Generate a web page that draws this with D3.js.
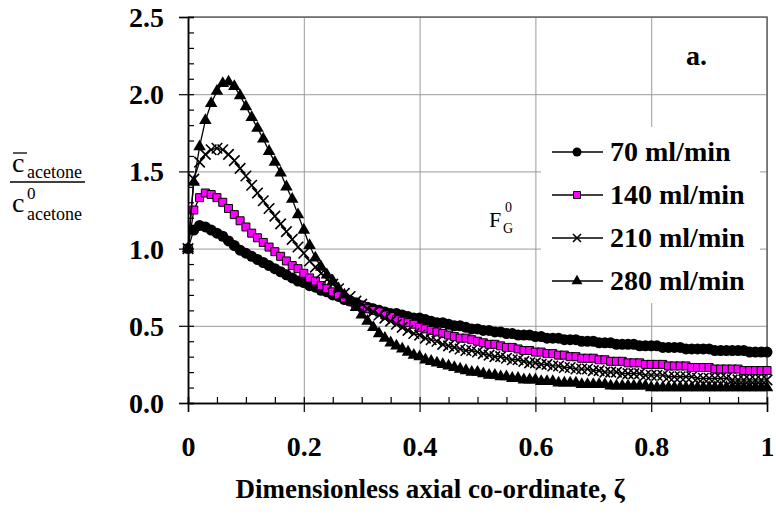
<!doctype html>
<html>

<head>
    <meta charset="UTF-8">
    <title>Acetone profiles</title>
    <script src="https://d3js.org/d3.v7.min.js"></script>
    <style>
        body { margin: 0; background: #fff; }
        text { font-family: "Liberation Serif", "Times New Roman", serif; }
    </style>
</head>

<body>
    <script>
        var width = 776;
        var height = 517;

        // axial co-ordinate, one point every 0.01
        var zeta = [0, 0.01, 0.02, 0.03, 0.04, 0.05, 0.06, 0.07, 0.08, 0.09,
            0.1, 0.11, 0.12, 0.13, 0.14, 0.15, 0.16, 0.17, 0.18, 0.19,
            0.2, 0.21, 0.22, 0.23, 0.24, 0.25, 0.26, 0.27, 0.28, 0.29,
            0.3, 0.31, 0.32, 0.33, 0.34, 0.35, 0.36, 0.37, 0.38, 0.39,
            0.4, 0.41, 0.42, 0.43, 0.44, 0.45, 0.46, 0.47, 0.48, 0.49,
            0.5, 0.51, 0.52, 0.53, 0.54, 0.55, 0.56, 0.57, 0.58, 0.59,
            0.6, 0.61, 0.62, 0.63, 0.64, 0.65, 0.66, 0.67, 0.68, 0.69,
            0.7, 0.71, 0.72, 0.73, 0.74, 0.75, 0.76, 0.77, 0.78, 0.79,
            0.8, 0.81, 0.82, 0.83, 0.84, 0.85, 0.86, 0.87, 0.88, 0.89,
            0.9, 0.91, 0.92, 0.93, 0.94, 0.95, 0.96, 0.97, 0.98, 0.99, 1];

        var flow70 = [1.00, 1.12, 1.15, 1.14, 1.12, 1.10, 1.08, 1.05, 1.02, 0.99,
            0.97, 0.95, 0.93, 0.91, 0.89, 0.87, 0.85, 0.83, 0.81, 0.79,
            0.78, 0.76, 0.75, 0.73, 0.72, 0.70, 0.69, 0.67, 0.66, 0.65,
            0.63, 0.62, 0.61, 0.60, 0.59, 0.58, 0.58, 0.57, 0.56, 0.55,
            0.55, 0.54, 0.53, 0.52, 0.52, 0.51, 0.50, 0.50, 0.49, 0.48,
            0.48, 0.47, 0.47, 0.46, 0.46, 0.45, 0.45, 0.44, 0.44, 0.44,
            0.43, 0.43, 0.42, 0.42, 0.42, 0.41, 0.41, 0.41, 0.40, 0.40,
            0.40, 0.39, 0.39, 0.39, 0.38, 0.38, 0.38, 0.38, 0.37, 0.37,
            0.37, 0.37, 0.36, 0.36, 0.36, 0.36, 0.35, 0.35, 0.35, 0.35,
            0.35, 0.34, 0.34, 0.34, 0.34, 0.34, 0.34, 0.33, 0.33, 0.33, 0.33];

        var flow140 = [1.00, 1.25, 1.33, 1.36, 1.35, 1.33, 1.30, 1.26, 1.22, 1.18,
            1.14, 1.10, 1.07, 1.04, 1.01, 0.98, 0.95, 0.92, 0.89, 0.87,
            0.84, 0.81, 0.79, 0.76, 0.74, 0.72, 0.70, 0.68, 0.66, 0.64,
            0.63, 0.61, 0.60, 0.59, 0.57, 0.56, 0.54, 0.53, 0.52, 0.51,
            0.49, 0.48, 0.47, 0.46, 0.45, 0.44, 0.43, 0.42, 0.42, 0.41,
            0.40, 0.39, 0.38, 0.38, 0.37, 0.36, 0.36, 0.35, 0.34, 0.34,
            0.33, 0.33, 0.32, 0.32, 0.31, 0.31, 0.30, 0.30, 0.29, 0.29,
            0.29, 0.28, 0.28, 0.27, 0.27, 0.27, 0.26, 0.26, 0.26, 0.25,
            0.25, 0.25, 0.25, 0.24, 0.24, 0.24, 0.24, 0.23, 0.23, 0.23,
            0.23, 0.22, 0.22, 0.22, 0.22, 0.22, 0.21, 0.21, 0.21, 0.21, 0.21];

        var flow210 = [1.00, 1.45, 1.56, 1.61, 1.64, 1.65, 1.64, 1.61, 1.57, 1.52,
            1.47, 1.41, 1.36, 1.31, 1.26, 1.21, 1.16, 1.11, 1.06, 1.01,
            0.97, 0.92, 0.88, 0.84, 0.80, 0.77, 0.74, 0.71, 0.69, 0.66,
            0.64, 0.61, 0.59, 0.57, 0.55, 0.53, 0.51, 0.49, 0.47, 0.45,
            0.44, 0.42, 0.41, 0.40, 0.38, 0.37, 0.36, 0.35, 0.34, 0.34,
            0.33, 0.32, 0.31, 0.30, 0.30, 0.29, 0.28, 0.28, 0.27, 0.26,
            0.26, 0.25, 0.25, 0.24, 0.24, 0.23, 0.23, 0.22, 0.22, 0.22,
            0.21, 0.21, 0.20, 0.20, 0.20, 0.19, 0.19, 0.19, 0.19, 0.18,
            0.18, 0.18, 0.18, 0.17, 0.17, 0.17, 0.17, 0.17, 0.16, 0.16,
            0.16, 0.16, 0.16, 0.16, 0.15, 0.15, 0.15, 0.15, 0.15, 0.15, 0.15];

        var flow280 = [1.00, 1.43, 1.66, 1.83, 1.94, 2.02, 2.07, 2.08, 2.05, 1.99,
            1.92, 1.85, 1.78, 1.71, 1.63, 1.56, 1.49, 1.40, 1.32, 1.22,
            1.12, 1.02, 0.94, 0.88, 0.83, 0.79, 0.74, 0.70, 0.66, 0.62,
            0.57, 0.53, 0.49, 0.45, 0.42, 0.39, 0.37, 0.35, 0.33, 0.31,
            0.30, 0.28, 0.27, 0.26, 0.25, 0.24, 0.23, 0.22, 0.21, 0.20,
            0.20, 0.19, 0.18, 0.18, 0.17, 0.17, 0.16, 0.16, 0.15, 0.15,
            0.15, 0.14, 0.14, 0.14, 0.13, 0.13, 0.13, 0.13, 0.12, 0.12,
            0.12, 0.12, 0.12, 0.11, 0.11, 0.11, 0.11, 0.11, 0.11, 0.11,
            0.10, 0.10, 0.10, 0.10, 0.10, 0.10, 0.10, 0.10, 0.10, 0.10,
            0.10, 0.10, 0.10, 0.10, 0.10, 0.10, 0.10, 0.10, 0.10, 0.10, 0.10];

        var seriesNames = ["70 ml/min", "140 ml/min", "210 ml/min", "280 ml/min"];
        var seriesValues = [flow70, flow140, flow210, flow280];
        var markerShapes = ["circle", "square", "cross", "triangle"];

        var xTicks = [0, 0.2, 0.4, 0.6, 0.8, 1];
        var xTickLabels = ["0", "0.2", "0.4", "0.6", "0.8", "1"];
        var yTicks = [0, 0.5, 1.0, 1.5, 2.0, 2.5];
        var yTickLabels = ["0.0", "0.5", "1.0", "1.5", "2.0", "2.5"];

        var plotLeft = 188, plotRight = 767, plotTop = 17, plotBottom = 403;

        var x = d3.scaleLinear().domain([0, 1]).range([plotLeft, plotRight]);
        var y = d3.scaleLinear().domain([0, 2.5]).range([plotBottom, plotTop]);

        var svg = d3.select("body").append("svg")
            .attr("width", width)
            .attr("height", height);

        // marker path for a shape centred on 0,0, s is roughly its width
        function marker(shape, s) {
            if (shape == "circle") return d3.symbol(d3.symbolCircle, Math.PI * s * s / 4)();
            if (shape == "square") return d3.symbol(d3.symbolSquare, s * s)();
            if (shape == "triangle") return d3.symbol(d3.symbolTriangle, s * s * 0.433)();
            var h = s / 2;
            return "M" + (-h) + "," + (-h) + "L" + h + "," + h + "M" + (-h) + "," + h + "L" + h + "," + (-h);
        }

        function styleMarker(sel, shape) {
            if (shape == "square") sel.attr("fill", "#ff00ff").attr("stroke", "#000").attr("stroke-width", 1);
            else if (shape == "cross") sel.attr("fill", "none").attr("stroke", "#000").attr("stroke-width", 1.6);
            else sel.attr("fill", "#000").attr("stroke", "none");
        }

        var markerSize = [11, 8, 10.5, 12.5];
        var legendMarkerSize = [9, 7, 8, 11];

        // grid
        svg.append("g")
            .attr("class", "grid")
            .attr("transform", "translate(0," + plotBottom + ")")
            .call(d3.axisBottom(x).tickValues(xTicks).tickSize(plotTop - plotBottom).tickFormat(""))
            .call(function (g) { g.select(".domain").remove(); })
            .selectAll("line").attr("stroke", "#9a9a9a");
        svg.append("g")
            .attr("class", "grid")
            .attr("transform", "translate(" + plotLeft + ",0)")
            .call(d3.axisRight(y).tickValues(yTicks).tickSize(plotRight - plotLeft).tickFormat(""))
            .call(function (g) { g.select(".domain").remove(); })
            .selectAll("line").attr("stroke", "#9a9a9a");

        // frame on top and right
        svg.append("path")
            .attr("d", "M" + plotLeft + "," + plotTop + "H" + plotRight + "V" + plotBottom)
            .attr("fill", "none")
            .attr("stroke", "#666")
            .attr("stroke-width", 1.5);

        // series
        var line = d3.line()
            .x(function (d, i) { return x(zeta[i]); })
            .y(function (d) { return y(d); });

        seriesValues.forEach(function (vals, k) {
            svg.append("path")
                .attr("d", line(vals))
                .attr("fill", "none")
                .attr("stroke", "#000")
                .attr("stroke-width", 1.3);
            var pts = svg.append("g").selectAll("path").data(vals).enter().append("path")
                .attr("transform", function (d, i) { return "translate(" + x(zeta[i]) + "," + y(d) + ")"; })
                .attr("d", marker(markerShapes[k], markerSize[k]));
            styleMarker(pts, markerShapes[k]);
        });

        // axes
        var yAxis = svg.append("g")
            .attr("class", "axis")
            .attr("transform", "translate(" + plotLeft + ",0)")
            .call(d3.axisLeft(y).tickValues(yTicks).tickFormat(function (d, i) { return yTickLabels[i]; })
                .tickSize(9).tickPadding(15));
        svg.append("g")
            .attr("class", "axis")
            .attr("transform", "translate(" + plotLeft + ",0)")
            .call(d3.axisRight(y).tickValues(d3.range(0, 26).map(function (i) { return i / 10; })).tickSize(6).tickFormat(""));

        var xAxis = svg.append("g")
            .attr("class", "axis")
            .attr("transform", "translate(0," + plotBottom + ")")
            .call(d3.axisBottom(x).tickValues(xTicks).tickFormat(function (d, i) { return xTickLabels[i]; })
                .tickSize(9).tickPadding(24));
        svg.append("g")
            .attr("class", "axis")
            .attr("transform", "translate(0," + plotBottom + ")")
            .call(d3.axisTop(x).tickValues(d3.range(0, 21).map(function (i) { return i / 20; })).tickSize(6).tickFormat(""));

        svg.selectAll(".axis .domain").attr("stroke", "#000").attr("stroke-width", 1.5);
        svg.selectAll(".axis .tick line").attr("stroke", "#000").attr("stroke-width", 1.2);
        svg.selectAll(".axis .tick text")
            .attr("fill", "#000")
            .style("font-family", "Liberation Serif")
            .style("font-size", "28px")
            .style("font-weight", "bold");
        yAxis.selectAll(".tick text").attr("dy", "0.34em");

        // legend
        svg.append("rect")
            .attr("x", 541).attr("y", 127)
            .attr("width", 219).attr("height", 176)
            .attr("fill", "#fff");
        seriesNames.forEach(function (name, k) {
            var ry = 152 + k * 43;
            svg.append("line")
                .attr("x1", 552).attr("x2", 603).attr("y1", ry).attr("y2", ry)
                .attr("stroke", "#000").attr("stroke-width", 1.3);
            var m = svg.append("path")
                .attr("transform", "translate(577," + ry + ")")
                .attr("d", marker(markerShapes[k], legendMarkerSize[k]));
            styleMarker(m, markerShapes[k]);
            svg.append("text")
                .attr("x", 610).attr("y", ry + 9)
                .attr("font-size", 28).attr("font-weight", "bold")
                .text(name);
        });

        // panel letter
        svg.append("text")
            .attr("x", 707).attr("y", 65)
            .attr("text-anchor", "end")
            .attr("font-size", 28).attr("font-weight", "bold")
            .text("a.");

        // F_G^0 label
        svg.append("text").attr("x", 489).attr("y", 227).attr("font-size", 22).text("F");
        svg.append("text").attr("x", 505).attr("y", 212).attr("font-size", 14).text("0");
        svg.append("text").attr("x", 503).attr("y", 233).attr("font-size", 14).text("G");

        // y axis label as a fraction
        svg.append("text").attr("x", 12).attr("y", 172).attr("font-size", 28).text("c");
        svg.append("line").attr("x1", 13).attr("x2", 27).attr("y1", 153).attr("y2", 153)
            .attr("stroke", "#000").attr("stroke-width", 1.3);
        svg.append("text").attr("x", 27).attr("y", 178).attr("font-size", 18).text("acetone");
        svg.append("line").attr("x1", 10).attr("x2", 85).attr("y1", 182).attr("y2", 182)
            .attr("stroke", "#000").attr("stroke-width", 1.3);
        svg.append("text").attr("x", 12).attr("y", 212).attr("font-size", 28).text("c");
        svg.append("text").attr("x", 27).attr("y", 199).attr("font-size", 17).text("0");
        svg.append("text").attr("x", 27).attr("y", 220).attr("font-size", 18).text("acetone");

        // x axis title
        svg.append("text")
            .attr("x", 430).attr("y", 498)
            .attr("text-anchor", "middle")
            .attr("font-size", 27).attr("font-weight", "bold")
            .text("Dimensionless axial co-ordinate, ζ");
    </script>
</body>

</html>
